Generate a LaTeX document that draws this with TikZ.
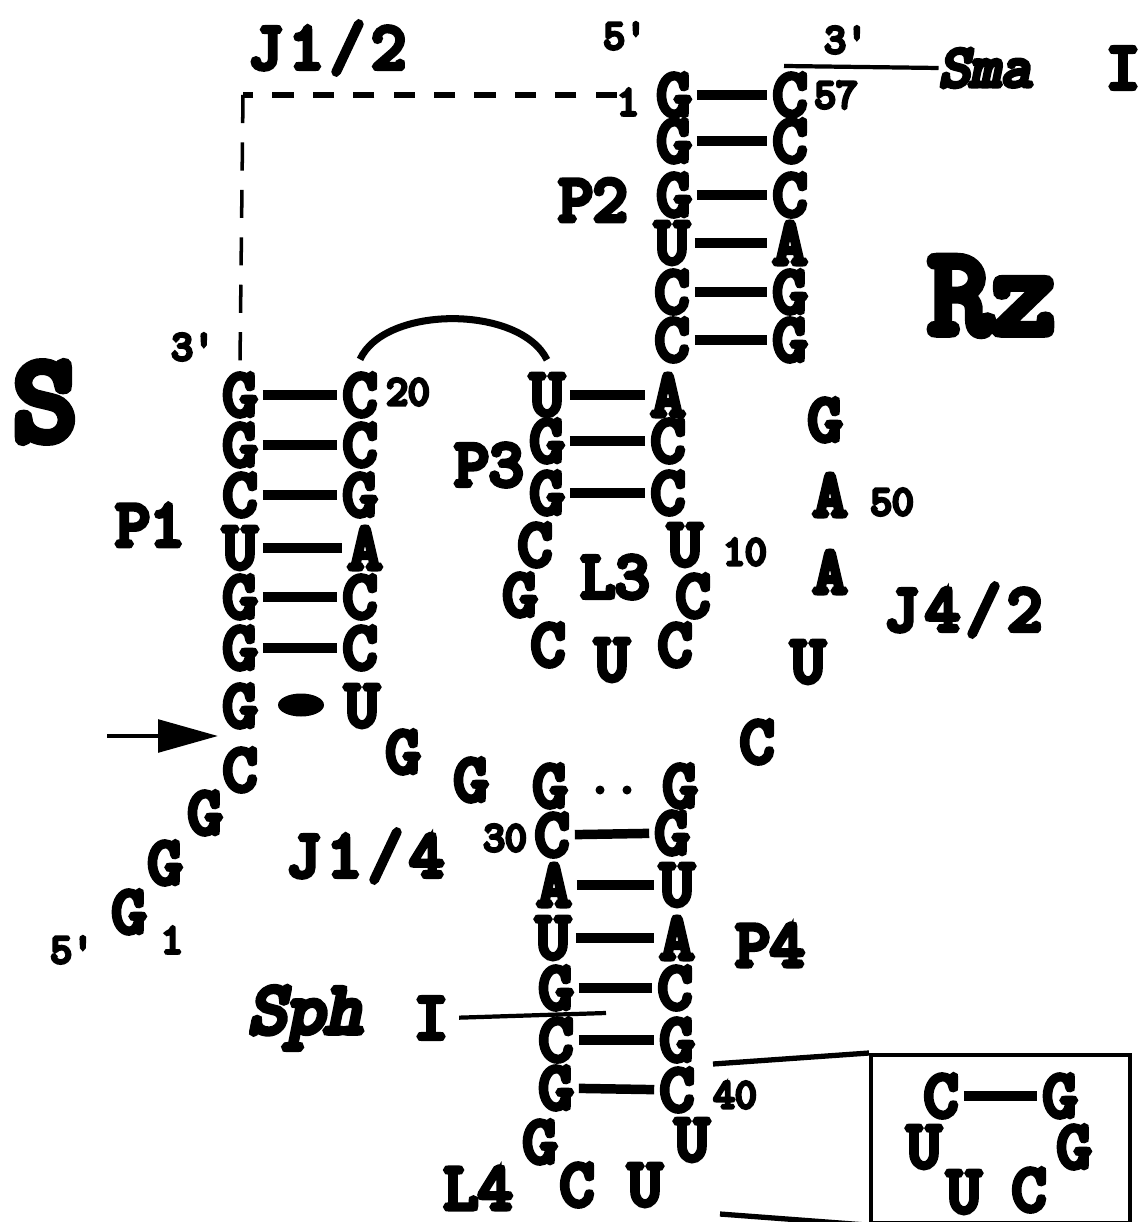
\documentclass[tikz,border=0pt]{standalone}
\usepackage{fontspec}
\newfontfamily\slabfont[FakeBold=8]{Latin Modern Mono}
\newfontfamily\slabslant[FakeBold=8,FakeSlant=0.2]{Latin Modern Mono}
\usetikzlibrary{arrows.meta,positioning,shapes.geometric}

\begin{document}
\begin{tikzpicture}[
  x=0.02cm, y=-0.02cm,
  >=Stealth,
  % ── nucleotide letter ──
  nt/.style={inner sep=0pt, font=\fontsize{38}{38}\selectfont\slabfont},
  % ── junction names ──
  jn/.style={inner sep=0pt, font=\fontsize{38}{38}\selectfont\slabfont\addfontfeature{LetterSpace=10}},
  % ── small residue numbers and primes ──
  num/.style={inner sep=0pt, font=\fontsize{24}{24}\selectfont\slabfont},
  % ── big strand names ──
  big/.style={inner sep=0pt, font=\fontsize{70}{70}\selectfont\slabfont},
  % ── enzyme names ──
  enz/.style={inner sep=0pt, font=\fontsize{34}{34}\selectfont\slabslant},
  % ── connectors ──
  bp/.style={line width=5.4pt, shorten >=3pt, shorten <=3pt},
  site/.style={line width=2.4pt},
  dashh/.style={line width=3pt, dash pattern=on 12pt off 11pt},
  dashv/.style={line width=2pt, dash pattern=on 16pt off 11pt},
  pip/.style={circle, fill=black, inner sep=0pt, minimum size=0.18cm},
]
\useasboundingbox (0,0) rectangle (1146,1222);

%% ── Titles and labels ──
\node[big] (S)  at (45,402)  {S};
\node[big] (Rz) at (992,296) {Rz};
\node[jn] (J12) at (327,48)   {J1/2};
\node[jn] (J42) at (963,610)  {J4/2};
\node[jn] (J14) at (365,856)  {J1/4};
\node[nt] (P1)  at (150,525)  {P1};
\node[nt] (P2)  at (593,200)  {P2};
\node[nt] (P3)  at (489,465)  {P3};
\node[nt] (P4)  at (770,945)  {P4};
\node[nt] (L3)  at (615,577)  {L3};
\node[nt] (L4)  at (478,1188) {L4};
\node[num] (p5a) at (625,36)  {5'};
\node[num] (p3a) at (846,40)  {3'};
\node[num] (p3b) at (193,347) {3'};
\node[num] (p5b) at (72,950)  {5'};

%% ── P2 stem ──
\node[nt] (G1)  at (674,95)  {G};
\node[nt] (C57) at (790,95)  {C};
\node[nt] (G2)  at (674,141) {G};
\node[nt] (C56) at (790,141) {C};
\node[nt] (G3)  at (674,195) {G};
\node[nt] (C55) at (790,195) {C};
\node[nt] (U4)  at (672,243) {U};
\node[nt] (A54) at (790,243) {A};
\node[nt] (C5)  at (672,292) {C};
\node[nt] (G53) at (790,292) {G};
\node[nt] (C6)  at (672,340) {C};
\node[nt] (G52) at (790,340) {G};
\node[num] (n1)  at (628,102) {1};
\node[num] (n57) at (836,95)  {57};

%% ── P3 stem and L3 loop ──
\node[nt] (U22) at (547,395) {U};
\node[nt] (A7)  at (668,395) {A};
\node[nt] (G23) at (547,441) {G};
\node[nt] (C8)  at (668,441) {C};
\node[nt] (G24) at (547,493) {G};
\node[nt] (C9)  at (668,493) {C};
\node[nt] (C25) at (535,545) {C};
\node[nt] (G26) at (520,595) {G};
\node[nt] (C27) at (548,645) {C};
\node[nt] (U28) at (612,660) {U};
\node[nt] (C29) at (675,645) {C};
\node[nt] (C11) at (693,596) {C};
\node[nt] (U10) at (685,545) {U};
\node[num] (n10) at (745,552) {10};

%% ── P1 stem ──
\node[nt] (G7s) at (240,395) {G};
\node[nt] (C20) at (360,395) {C};
\node[nt] (G6s) at (240,445) {G};
\node[nt] (C19) at (360,445) {C};
\node[nt] (C5s) at (240,495) {C};
\node[nt] (G18) at (360,495) {G};
\node[nt] (U4s) at (240,548) {U};
\node[nt] (A17) at (365,548) {A};
\node[nt] (G3s) at (240,597) {G};
\node[nt] (C16) at (360,597) {C};
\node[nt] (G2s) at (240,648) {G};
\node[nt] (C15) at (360,648) {C};
\node[nt] (G1s) at (240,706) {G};
\node[nt] (U14) at (362,706) {U};
\node[num] (n20) at (408,392) {20};
\node[fill=black, ellipse, inner sep=0pt, minimum width=0.92cm, minimum height=0.46cm] (wob) at (301,705) {};

%% ── S 5' tail ──
\node[nt] (Ct) at (240,770) {C};
\node[nt] (Gc) at (205,813) {G};
\node[nt] (Gb) at (165,863) {G};
\node[nt] (Ga) at (129,912) {G};
\node[num] (n1s) at (172,940) {1};
\coordinate (cut0) at (107,736);

%% ── J1/4 ──
\node[nt] (G13) at (403,752) {G};
\node[nt] (G12) at (471,780) {G};

%% ── J4/2 ──
\node[nt] (G51) at (825,420) {G};
\node[nt] (A50) at (830,495) {A};
\node[nt] (A49) at (830,572) {A};
\node[nt] (U48) at (808,662) {U};
\node[nt] (C47) at (757,742) {C};
\node[num] (n50) at (892,502) {50};

%% ── P4 stem and L4 loop ──
\node[nt] (G31) at (550,786)  {G};
\node[nt] (G46) at (680,786)  {G};
\node[pip] (d1) at (600,790) {};
\node[pip] (d2) at (627,790) {};
\node[nt] (C30) at (552,835)  {C};
\node[nt] (G45) at (672,833)  {G};
\node[nt] (A32) at (554,885)  {A};
\node[nt] (U44) at (677,885)  {U};
\node[nt] (U33) at (553,938)  {U};
\node[nt] (A43) at (677,938)  {A};
\node[nt] (G34) at (556,988)  {G};
\node[nt] (C42) at (675,988)  {C};
\node[nt] (C35) at (556,1040) {C};
\node[nt] (G41) at (677,1040) {G};
\node[nt] (G36) at (556,1088) {G};
\node[nt] (C40) at (677,1090) {C};
\node[nt] (G37) at (540,1142) {G};
\node[nt] (U39) at (692,1140) {U};
\node[nt] (C38) at (577,1185) {C};
\node[nt] (U38) at (645,1185) {U};
\node[num] (n30) at (505,838)  {30};
\node[num] (n40) at (735,1095) {40};

%% ── Boxed loop ──
\node[draw, line width=2.4pt, inner sep=0pt, minimum width=5.18cm, minimum height=3.36cm, anchor=north west]
      (inset) at (869,1053) {};
\node[nt] (bC) at (941,1096) {C};
\node[nt] (bG) at (1060,1096) {G};
\node[nt] (bU) at (924,1147) {U};
\node[nt] (bH) at (1074,1147) {G};
\node[nt] (bV) at (964,1192) {U};
\node[nt] (bD) at (1029,1190) {C};
\coordinate (zoomA) at (713,1064);
\coordinate (zoomB) at (720,1214);

%% ── Enzyme sites ──
\node[enz] (Sma) at (985,68) {Sma};
\node[nt] (SmaI) at (1123,68) {I};
\node[enz, font=\fontsize{42}{42}\selectfont\slabslant] (Sph) at (305,1018) {Sph};
\node[nt] (SphI) at (431,1018) {I};
\coordinate (SmaEnd) at (784,66);
\coordinate (SphEnd) at (606,1013);

%% ── Base pairs ──
\draw[bp] (G1) -- (C57);
\draw[bp] (G2) -- (C56);
\draw[bp] (G3) -- (C55);
\draw[bp] (U4) -- (A54);
\draw[bp] (C5) -- (G53);
\draw[bp] (C6) -- (G52);
\draw[bp] (U22) -- (A7);
\draw[bp] (G23) -- (C8);
\draw[bp] (G24) -- (C9);
\draw[bp] (G7s) -- (C20);
\draw[bp] (G6s) -- (C19);
\draw[bp] (C5s) -- (G18);
\draw[bp] (U4s) -- (A17);
\draw[bp] (G3s) -- (C16);
\draw[bp] (G2s) -- (C15);
\draw[bp] (C30) -- (G45);
\draw[bp] (A32) -- (U44);
\draw[bp] (U33) -- (A43);
\draw[bp] (G34) -- (C42);
\draw[bp] (C35) -- (G41);
\draw[bp] (G36) -- (C40);
\draw[bp] (bC) -- (bG);

%% ── Tertiary contacts ──
\draw[line width=4pt] ([yshift=8]C20.north) .. controls (385,305) and (520,305) .. ([yshift=8]U22.north);
\coordinate (cnr) at (243,95);
\draw[dashh] (n1.west |- G1.west) -- (cnr);
\draw[dashv] (cnr) -- ([yshift=6]G7s.north);

%% ── Cleavage arrow, enzyme lines and box leads ──
\draw[-{Triangle[length=1.2cm,width=0.65cm]}, line width=2.4pt] (cut0) -- (218,736);
\draw[site] (SmaEnd) -- (Sma.west);
\draw[site, shorten <=6pt] (SphI.east) -- (SphEnd);
\draw[line width=3pt] (zoomA) -- (inset.north west);
\draw[line width=3pt] (zoomB) -- (inset.south west);

\end{tikzpicture}
\end{document}
